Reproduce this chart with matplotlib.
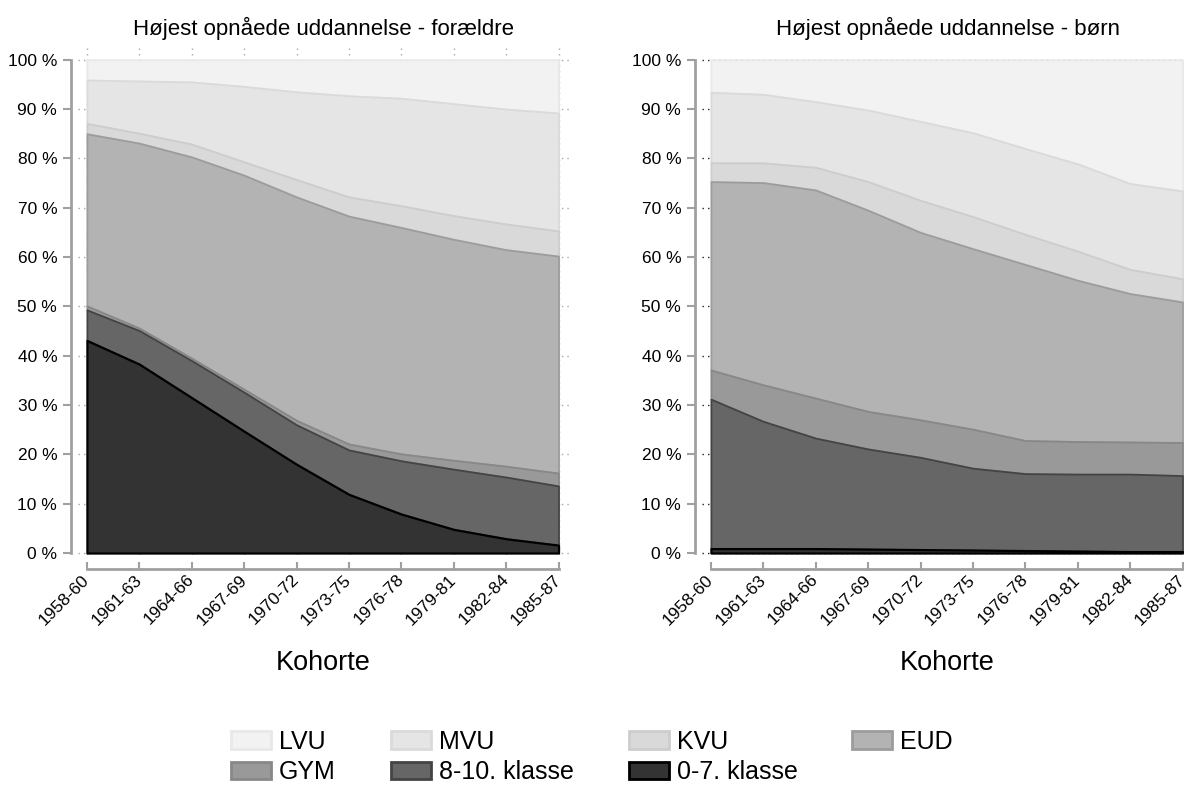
import matplotlib
matplotlib.use("Agg")
import matplotlib.pyplot as plt
from matplotlib.patches import Patch
import numpy as np

plt.rcParams["font.family"] = ["Liberation Sans", "DejaVu Sans"]

cohorts = ["1958-60", "1961-63", "1964-66", "1967-69", "1970-72",
           "1973-75", "1976-78", "1979-81", "1982-84", "1985-87"]

categories = ["0-7. klasse", "8-10. klasse", "GYM", "EUD", "KVU", "MVU", "LVU"]

# forældre, andel i procent
par_07 = [43.1, 38.3, 31.5, 24.7, 18.0, 11.9, 7.9, 4.8, 2.9, 1.6]
par_810 = [6.2, 6.8, 7.5, 7.9, 8.0, 9.0, 10.8, 12.2, 12.5, 12.0]
par_gym = [0.8, 0.5, 0.5, 0.6, 0.9, 1.2, 1.4, 1.8, 2.2, 2.6]
par_eud = [34.9, 37.5, 40.8, 43.4, 45.3, 46.2, 45.9, 44.8, 43.9, 44.0]
par_kvu = [2.1, 2.0, 2.6, 2.7, 3.5, 3.9, 4.4, 4.8, 5.2, 5.1]
par_mvu = [8.8, 10.6, 12.6, 15.3, 17.8, 20.5, 21.8, 22.7, 23.3, 23.9]
par_lvu = [4.1, 4.3, 4.5, 5.4, 6.5, 7.3, 7.8, 8.9, 10.0, 10.8]

# børn
kid_07 = [0.9, 0.9, 0.9, 0.8, 0.7, 0.6, 0.5, 0.4, 0.3, 0.3]
kid_810 = [30.3, 25.8, 22.4, 20.3, 18.7, 16.6, 15.6, 15.6, 15.7, 15.4]
kid_gym = [5.9, 7.4, 8.1, 7.6, 7.6, 7.9, 6.7, 6.6, 6.5, 6.7]
kid_eud = [38.2, 41.0, 42.2, 40.8, 38.0, 36.6, 35.7, 32.7, 30.1, 28.5]
kid_kvu = [3.8, 4.0, 4.6, 5.8, 6.5, 6.5, 6.1, 5.9, 4.9, 4.7]
kid_mvu = [14.3, 13.9, 13.3, 14.5, 16.0, 17.0, 17.4, 17.7, 17.4, 17.8]
kid_lvu = [6.6, 7.0, 8.5, 10.2, 12.5, 14.8, 18.0, 21.1, 25.1, 26.6]

fills = ["#333333", "#666666", "#999999", "#b3b3b3", "#d9d9d9", "#e5e5e5", "#f2f2f2"]
edges = ["#000000", "#444444", "#888888", "#9c9c9c", "#cdcdcd", "#dadada", "#e8e8e8"]

W, H = 1184, 788


def draw_panel(ax, layers, title, grid_color, vgrid):
    x = np.arange(len(cohorts))
    polys = ax.stackplot(x, *layers, colors=fills)
    n = len(polys)
    for i, p in enumerate(polys):
        p.set_edgecolor(edges[i])
        p.set_linewidth(1.6 if i == 0 else 1.3)
        p.set_zorder(10 + n - i)

    ax.set_xlim(-0.17, 9.2)
    ax.set_ylim(-0.4, 103.2)
    ax.set_xticks(x)
    ax.set_xticklabels(cohorts)
    yt = np.arange(0, 101, 10)
    ax.set_yticks(yt)
    ax.set_yticklabels([f"{v} %" for v in yt])

    for s in ["top", "right"]:
        ax.spines[s].set_visible(False)
    ax.spines["left"].set_bounds(0, 100)
    ax.spines["left"].set_position(("outward", 5))
    ax.spines["bottom"].set_bounds(0, 9)
    ax.spines["bottom"].set_position(("outward", 10))
    for s in ["left", "bottom"]:
        ax.spines[s].set_color("#a0a0a0")
        ax.spines[s].set_linewidth(2)
    ax.tick_params(axis="y", direction="out", length=6, width=1.5, color="#a0a0a0",
                   pad=4, labelsize=12.5)
    ax.tick_params(axis="x", direction="in", length=5, width=1.5, color="#a0a0a0",
                   pad=6, labelsize=12.5, labelrotation=45)
    plt.setp(ax.get_xticklabels(), ha="right", va="center", rotation_mode="anchor")

    ax.set_axisbelow(True)
    ax.grid(axis="y", color=grid_color, linestyle=(0, (1, 3)), linewidth=1)
    if vgrid:
        ax.grid(axis="x", color=grid_color, linestyle=(0, (1, 3)), linewidth=1)

    ax.text(0.5, 1.031, title, transform=ax.transAxes, ha="center", va="center", fontsize=16)
    ax.set_xlabel("Kohorte", fontsize=19.5)
    ax.xaxis.set_label_coords(0.5, -0.186)


fig = plt.figure(figsize=(W / 100, H / 100), dpi=100)
aw = 491 / W
ah = 511 / H
ab = (H - 555) / H
ax1 = fig.add_axes([78 / W, ab, aw, ah])
ax2 = fig.add_axes([702 / W, ab, aw, ah])

draw_panel(ax1, [par_07, par_810, par_gym, par_eud, par_kvu, par_mvu, par_lvu],
           "Højest opnåede uddannelse - forældre", "#a8a8a8", True)
draw_panel(ax2, [kid_07, kid_810, kid_gym, kid_eud, kid_kvu, kid_mvu, kid_lvu],
           "Højest opnåede uddannelse - børn", "#222222", False)

# legend row-wise like the original: LVU MVU KVU EUD / GYM 8-10 0-7
order = [6, 2, 5, 1, 4, 0, 3]
handles = [Patch(facecolor=fills[i], edgecolor=edges[i], linewidth=2, label=categories[i]) for i in order]
fig.legend(handles=handles, ncol=4, loc="center", bbox_to_anchor=(592 / W, 1 - 757 / H),
           frameon=False, fontsize=18, handlelength=1.6, handleheight=0.7,
           columnspacing=2.2, handletextpad=0.32, labelspacing=0.25)

fig.savefig("out.png", dpi=100)
